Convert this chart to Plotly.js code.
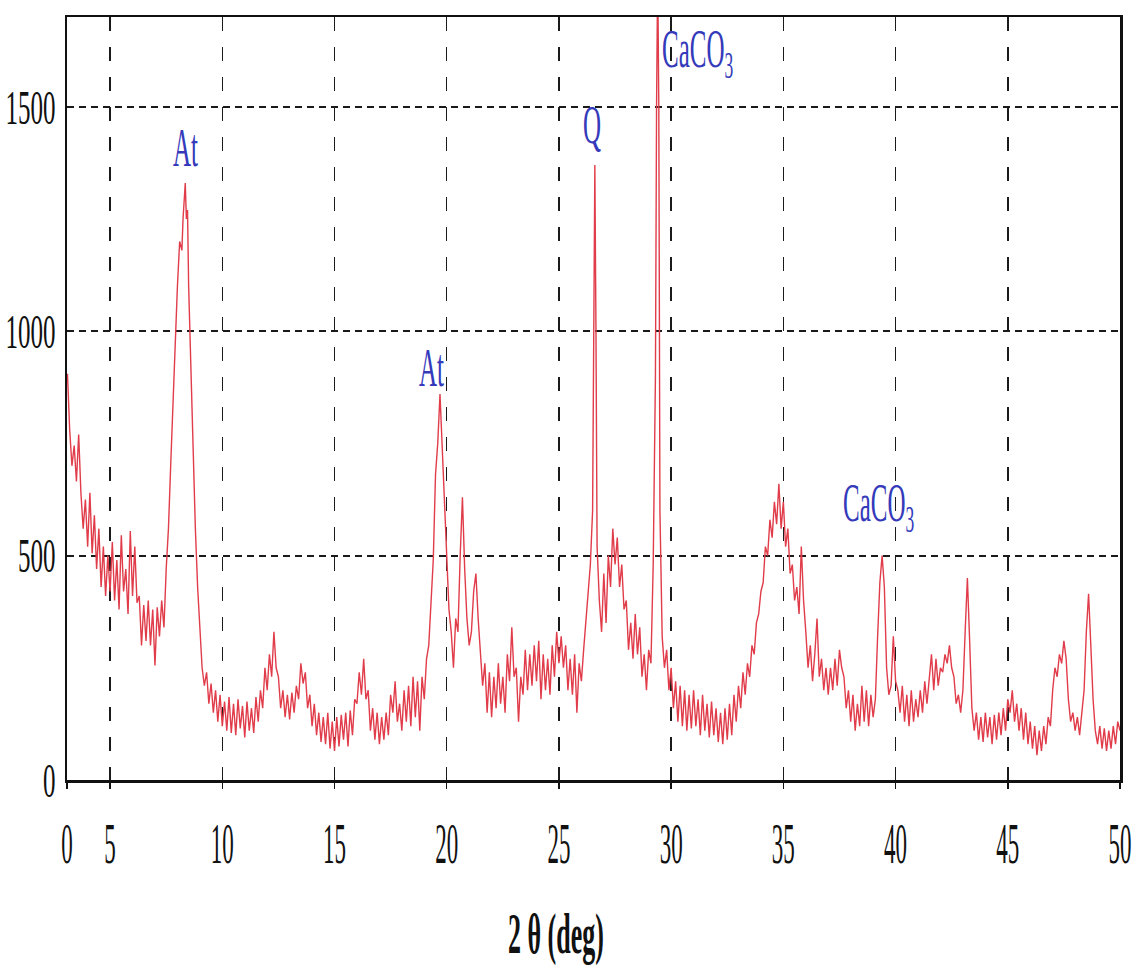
<!DOCTYPE html>
<html>
<head>
<meta charset="utf-8">
<script src="https://cdn.plot.ly/plotly-3.0.1.min.js"></script>
<style>html,body{margin:0;padding:0;background:#fff;}</style>
</head>
<body>
<div id="chart" style="width:1132px;height:966px;"></div>
<script>
// 2-theta positions (deg)
const twoTheta = [
  3.1,3.2,3.3,3.4,3.5,3.6,3.7,3.8,3.9,4.0,
  4.1,4.2,4.3,4.4,4.5,4.6,4.7,4.8,4.9,5.0,
  5.1,5.2,5.3,5.4,5.5,5.6,5.7,5.8,5.9,6.0,
  6.1,6.2,6.3,6.4,6.5,6.6,6.7,6.8,6.9,7.0,
  7.1,7.2,7.3,7.4,7.5,7.6,7.7,7.8,7.9,8.0,
  8.1,8.2,8.25,8.3,8.35,8.4,8.45,8.5,8.6,8.7,
  8.8,8.9,9.0,9.1,9.2,9.3,9.4,9.5,9.6,9.7,
  9.8,9.9,10.0,10.1,10.2,10.3,10.4,10.5,10.6,10.7,
  10.8,10.9,11.0,11.1,11.2,11.3,11.4,11.5,11.6,11.7,
  11.8,11.9,12.0,12.1,12.2,12.3,12.4,12.5,12.6,12.7,
  12.8,12.9,13.0,13.1,13.2,13.3,13.4,13.5,13.6,13.7,
  13.8,13.9,14.0,14.1,14.2,14.3,14.4,14.5,14.6,14.7,
  14.8,14.9,15.0,15.1,15.2,15.3,15.4,15.5,15.6,15.7,
  15.8,15.9,16.0,16.1,16.2,16.3,16.4,16.5,16.6,16.7,
  16.8,16.9,17.0,17.1,17.2,17.3,17.4,17.5,17.6,17.7,
  17.8,17.9,18.0,18.1,18.2,18.3,18.4,18.5,18.6,18.7,
  18.8,18.9,19.0,19.1,19.2,19.3,19.4,19.5,19.6,19.7,
  19.8,19.9,20.0,20.1,20.2,20.3,20.4,20.5,20.6,20.7,
  20.8,20.9,21.0,21.1,21.2,21.3,21.4,21.5,21.6,21.7,
  21.8,21.9,22.0,22.1,22.2,22.3,22.4,22.5,22.6,22.7,
  22.8,22.9,23.0,23.1,23.2,23.3,23.4,23.5,23.6,23.7,
  23.8,23.9,24.0,24.1,24.2,24.3,24.4,24.5,24.6,24.7,
  24.8,24.9,25.0,25.1,25.2,25.3,25.4,25.5,25.6,25.7,
  25.8,25.9,26.0,26.1,26.2,26.3,26.4,26.5,
  26.55,26.6,26.65,26.7,26.8,26.9,27.0,27.1,27.2,27.3,
  27.4,27.5,27.6,27.7,27.8,27.9,28.0,28.1,28.2,28.3,
  28.4,28.5,28.6,28.7,28.8,28.9,29.0,29.1,29.2,29.3,
  29.35,29.4,29.45,29.5,29.6,29.7,29.8,29.9,30.0,30.1,
  30.2,30.3,30.4,30.5,30.6,30.7,30.8,30.9,31.0,31.1,
  31.2,31.3,31.4,31.5,31.6,31.7,31.8,31.9,32.0,32.1,
  32.2,32.3,32.4,32.5,32.6,32.7,32.8,32.9,33.0,33.1,
  33.2,33.3,33.4,33.5,33.6,33.7,33.8,33.9,34.0,34.1,
  34.2,34.3,34.4,34.5,34.6,34.7,34.8,34.9,35.0,35.1,
  35.2,35.3,35.4,35.5,35.6,35.7,35.8,35.9,36.0,36.1,
  36.2,36.3,36.4,36.5,36.6,36.7,36.8,36.9,37.0,37.1,
  37.2,37.3,37.4,37.5,37.6,37.7,37.8,37.9,38.0,38.1,
  38.2,38.3,38.4,38.5,38.6,38.7,38.8,38.9,39.0,39.1,
  39.2,39.3,39.4,39.5,39.6,39.7,39.8,39.9,40.0,40.1,
  40.2,40.3,40.4,40.5,40.6,40.7,40.8,40.9,41.0,41.1,
  41.2,41.3,41.4,41.5,41.6,41.7,41.8,41.9,42.0,42.1,
  42.2,42.3,42.4,42.5,42.6,42.7,42.8,42.9,43.0,43.1,
  43.2,43.3,43.4,43.5,43.6,43.7,43.8,43.9,44.0,44.1,
  44.2,44.3,44.4,44.5,44.6,44.7,44.8,44.9,45.0,45.1,
  45.2,45.3,45.4,45.5,45.6,45.7,45.8,45.9,46.0,46.1,
  46.2,46.3,46.4,46.5,46.6,46.7,46.8,46.9,47.0,47.1,
  47.2,47.3,47.4,47.5,47.6,47.7,47.8,47.9,48.0,48.1,
  48.2,48.3,48.4,48.5,48.6,48.7,48.8,48.9,49.0,49.1,
  49.2,49.3,49.4,49.5,49.6,49.7,49.8,49.9,50.0
];
// intensity (counts)
const counts = [
  905,780,700,745,665,770,640,560,625,520,
  640,505,590,470,560,430,520,410,500,420,
  530,400,490,380,545,420,470,370,555,410,
  520,395,410,300,390,310,400,300,380,255,
  385,320,400,340,470,560,700,850,980,1100,
  1200,1180,1250,1290,1330,1250,1270,1100,900,700,
  560,430,330,250,210,240,170,215,150,200,
  130,190,120,175,110,185,105,170,100,180,
  115,165,95,175,110,160,105,185,130,200,
  160,250,200,280,230,330,250,230,160,200,
  140,190,135,195,150,210,180,260,215,240,
  160,190,120,170,100,150,85,140,80,150,
  70,130,65,140,75,145,90,150,75,155,
  100,180,170,240,190,270,180,200,110,160,
  90,150,80,140,90,150,100,190,150,220,
  130,170,110,200,130,210,120,230,140,220,
  110,230,180,270,300,400,490,680,750,860,
  740,640,500,380,330,250,360,330,500,630,
  470,360,300,330,420,460,360,280,210,260,
  150,240,140,230,160,260,170,230,150,280,
  220,340,230,250,130,230,190,290,200,280,
  210,300,220,310,180,280,200,270,190,300,
  230,330,260,320,250,300,200,270,190,280,
  150,260,220,290,350,420,480,600,
  1000,1370,1000,520,400,330,460,350,500,430,
  560,480,540,430,480,380,400,290,350,270,
  370,280,340,230,280,200,290,260,480,900,
  1500,1800,1500,600,320,250,290,200,250,160,
  220,130,210,120,200,110,190,115,200,120,
  180,100,190,110,170,95,175,100,160,85,
  150,80,160,90,170,100,190,130,210,160,
  240,190,260,230,300,280,350,370,420,440,
  520,500,580,540,620,570,660,560,620,520,
  560,460,480,400,430,370,520,400,330,250,
  300,220,280,360,230,270,200,250,190,250,
  200,270,210,290,250,230,160,200,130,190,
  110,170,120,210,130,200,120,190,140,180,
  320,440,500,430,250,190,210,320,220,200,
  150,210,130,190,120,200,130,180,140,200,
  150,220,170,230,280,200,270,210,250,240,
  280,260,300,250,230,170,190,150,200,330,
  450,310,160,110,150,90,140,85,150,95,
  140,80,145,90,150,100,160,110,180,150,
  200,130,170,110,160,90,150,80,130,70,
  120,55,110,65,120,80,140,120,200,250,
  230,280,260,310,270,180,130,150,110,140,
  100,150,200,330,415,300,180,110,80,120,
  70,115,65,110,70,120,80,130,110
];
const xTickVals = [3.08, 5, 10, 15, 20, 25, 30, 35, 40, 45, 50];
const xTickText = ['0', '5', '10', '15', '20', '25', '30', '35', '40', '45', '50'];
const yTickVals = [0, 500, 1000, 1500];
const yTickText = ['0', '500', '1000', '1500'];
const peakLabels = ['At', 'At', 'Q', 'CaCO<sub>3</sub>', 'CaCO<sub>3</sub>'];
const peakX = [8.35, 19.33, 26.47, 31.2, 39.24];
const peakY = [1409, 918, 1461, 1620, 610];
const xTitle = '2 θ (deg)';

const labelColor = 'rgb(52,58,186)';

const trace = {
  x: twoTheta, y: counts, type: 'scatter', mode: 'lines',
  line: {color: 'rgb(224,60,74)', width: 1.4},
  hoverinfo: 'skip'
};

const annotations = peakLabels.map((t, i) => ({
  x: peakX[i], y: peakY[i], xref: 'x', yref: 'y', text: t,
  showarrow: false, xanchor: 'center', yanchor: 'middle',
  font: {family: 'Liberation Serif', size: 25, color: labelColor}
}));
annotations.push({
  x: 0.464, y: -0.203, xref: 'paper', yref: 'paper', text: '<b>' + xTitle + '</b>',
  showarrow: false, xanchor: 'center', yanchor: 'middle',
  font: {family: 'Liberation Sans Narrow', size: 26, color: '#111'}
});

const layout = {
  width: 1132, height: 966,
  margin: {l: 67, r: 12, t: 17, b: 186},
  paper_bgcolor: '#ffffff', plot_bgcolor: '#ffffff',
  showlegend: false,
  xaxis: {
    range: [3.08, 50], tickmode: 'array', tickvals: xTickVals, ticktext: xTickText,
    showgrid: true, gridcolor: '#1a1a1a', gridwidth: 1.5, griddash: '14px,16px',
    showline: true, mirror: true, linecolor: '#111', linewidth: 2.5,
    ticks: 'outside', ticklen: 6, tickwidth: 1.5, tickcolor: '#111',
    ticklabelstandoff: 36,
    tickfont: {family: 'Liberation Sans Narrow', size: 23, color: '#111'},
    zeroline: false
  },
  yaxis: {
    range: [0, 1700], tickmode: 'array', tickvals: yTickVals, ticktext: yTickText,
    showgrid: true, gridcolor: '#1a1a1a', gridwidth: 2, griddash: '7px,5px',
    showline: true, mirror: true, linecolor: '#111', linewidth: 2.5,
    ticks: '', ticklabelstandoff: 4,
    tickfont: {family: 'Liberation Sans Narrow', size: 25, color: '#111'},
    zeroline: false
  },
  annotations: annotations
};

function stretchEl(t, sy) {
  if (t.getAttribute('data-st')) return;
  const bb = t.getBBox();
  if (!bb.width || !bb.height) return;
  const cx = bb.x + bb.width / 2, cy = bb.y + bb.height / 2;
  const tr = t.getAttribute('transform') || '';
  t.setAttribute('transform', tr + ' translate(' + cx + ',' + cy + ') scale(1,' + sy + ') translate(' + (-cx) + ',' + (-cy) + ')');
  t.setAttribute('data-st', '1');
}

Plotly.newPlot('chart', [trace], layout, {displayModeBar: false, staticPlot: true}).then(() => {
  document.querySelectorAll('.xtick text').forEach(t => stretchEl(t, 2.5));
  document.querySelectorAll('.ytick text').forEach(t => stretchEl(t, 1.95));
  const ann = Array.from(document.querySelectorAll('.annotation-text'));
  ann.forEach((t, i) => stretchEl(t, 2.2));
});
</script>
</body>
</html>
